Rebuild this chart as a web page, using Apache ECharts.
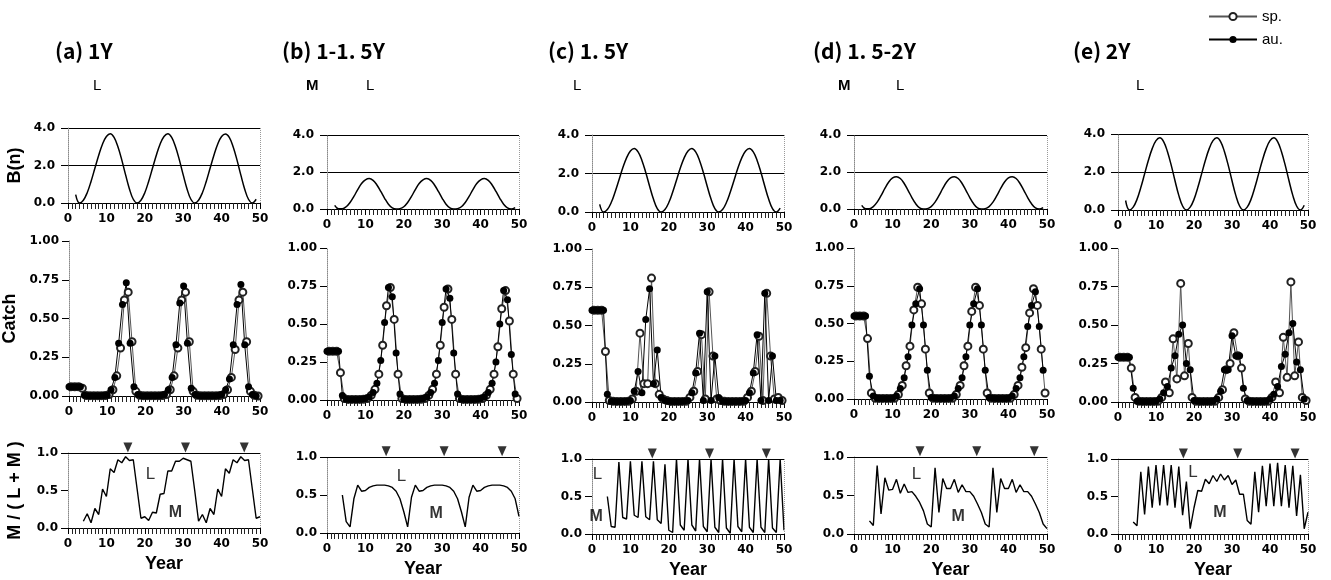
<!DOCTYPE html>
<html><head><meta charset="utf-8">
<script src="https://cdn.jsdelivr.net/npm/echarts@6/dist/echarts.min.js"></script>
<style>html,body{margin:0;padding:0;background:#fff}#c{width:1331px;height:580px}</style>
</head><body><div id="c"></div>
<script>
// ---------------- DATA ----------------
const panelTitles = ['(a) 1Y', '(b) 1-1. 5Y', '(c) 1. 5Y', '(d) 1. 5-2Y', '(e) 2Y'];
const headerMarks = [['L'], ['M', 'L'], ['L'], ['M', 'L'], ['L']];
const bTicks = [0, 2, 4];
const catchTicks = [0, 0.25, 0.5, 0.75, 1];
const mTicks = [0, 0.5, 1];

const bYears = [2,3,4,5,6,7,8,9,10,11,12,13,14,15,16,17,18,19,20,21,22,23,24,25,26,27,28,29,30,31,32,33,34,35,36,37,38,39,40,41,42,43,44,45,46,47,48,49];
const bA = [0.45,0.00,0.15,0.55,1.15,1.85,2.55,3.15,3.55,3.70,3.50,3.00,2.30,1.50,0.75,0.20,0.00,
            0.15,0.55,1.15,1.85,2.55,3.15,3.55,3.70,3.50,3.00,2.30,1.50,0.75,0.20,0.00,
            0.15,0.55,1.15,1.85,2.55,3.15,3.55,3.68,3.50,3.00,2.30,1.50,0.75,0.20,0.00,0.20];
const bB = [0.20,0.02,0.02,0.12,0.35,0.68,1.05,1.38,1.58,1.65,1.55,1.30,0.95,0.58,0.26,0.06,0.00,
            0.02,0.12,0.35,0.68,1.05,1.38,1.58,1.65,1.55,1.30,0.95,0.58,0.26,0.06,0.00,
            0.02,0.12,0.35,0.68,1.05,1.38,1.58,1.65,1.55,1.30,0.95,0.58,0.26,0.06,0.00,0.08];
const bC = [0.40,0.00,0.13,0.49,1.03,1.65,2.28,2.81,3.17,3.30,3.12,2.68,2.05,1.34,0.67,0.18,0.00,
            0.13,0.49,1.03,1.65,2.28,2.81,3.17,3.30,3.12,2.68,2.05,1.34,0.67,0.18,0.00,
            0.13,0.49,1.03,1.65,2.28,2.81,3.17,3.30,3.12,2.68,2.05,1.34,0.67,0.18,0.00,0.20];
const bD = [0.20,0.02,0.02,0.13,0.37,0.72,1.11,1.46,1.68,1.75,1.65,1.38,1.01,0.62,0.28,0.06,0.00,
            0.02,0.13,0.37,0.72,1.11,1.46,1.68,1.75,1.65,1.38,1.01,0.62,0.28,0.06,0.00,
            0.02,0.13,0.37,0.72,1.11,1.46,1.68,1.75,1.65,1.38,1.01,0.62,0.28,0.06,0.00,0.08];
const bE = [0.50,0.00,0.15,0.56,1.18,1.90,2.62,3.23,3.65,3.80,3.60,3.08,2.36,1.54,0.77,0.21,0.00,
            0.15,0.56,1.18,1.90,2.62,3.23,3.65,3.80,3.60,3.08,2.36,1.54,0.77,0.21,0.00,
            0.15,0.56,1.18,1.90,2.62,3.23,3.65,3.80,3.60,3.08,2.36,1.54,0.77,0.21,0.00,0.25];

const auYears = [0,1,2,3,4,5,6,7,8,9,10,11,12,13,14,15,16,17,18,19,20,21,22,23,24,25,26,27,28,29,30,31,32,33,34,35,36,37,38,39,40,41,42,43,44,45,46,47,48,49];
const spYears = [0.5,1.5,2.5,3.5,4.5,5.5,6.5,7.5,8.5,9.5,10.5,11.5,12.5,13.5,14.5,15.5,16.5,17.5,18.5,19.5,20.5,21.5,22.5,23.5,24.5,25.5,26.5,27.5,28.5,29.5,30.5,31.5,32.5,33.5,34.5,35.5,36.5,37.5,38.5,39.5,40.5,41.5,42.5,43.5,44.5,45.5,46.5,47.5,48.5,49.5];

const auA = [0.06,0.06,0.06,0.06, 0.005,0.002,0.002,0.002,0.002,0.003,0.005, 0.04,0.12,0.34,0.59,0.73,0.34,0.06,0.01,
             0.002,0.002,0.002,0.002,0.002,0.003,0.01, 0.04,0.12,0.33,0.60,0.71,0.34,0.05,0.01,
             0.002,0.002,0.002,0.002,0.002,0.003,0.01, 0.04,0.11,0.33,0.59,0.72,0.33,0.06,0.01, 0.0];
const spA = [0.06,0.06,0.06,0.05, 0.003,0.002,0.002,0.002,0.002,0.003,0.01, 0.04,0.13,0.31,0.62,0.67,0.35,0.03,0.005,
             0.002,0.002,0.002,0.002,0.002,0.003,0.01, 0.04,0.13,0.31,0.62,0.67,0.35,0.03,0.005,
             0.002,0.002,0.002,0.002,0.002,0.003,0.01, 0.04,0.12,0.30,0.62,0.67,0.35,0.03,0.005, 0.0];
const auB = [0.32,0.32,0.32,0.32, 0.03, 0.005,0.004,0.004,0.004,0.005,
             0.01,0.02,0.05,0.11,0.26,0.51,0.74,0.68,0.31,0.04, 0.005,0.004,0.004,0.004,0.005,
             0.01,0.02,0.05,0.11,0.26,0.51,0.73,0.67,0.31,0.04, 0.005,0.004,0.004,0.004,0.005,
             0.01,0.02,0.05,0.11,0.25,0.50,0.72,0.66,0.30,0.04];
const spB = [0.32,0.32,0.32, 0.18, 0.01, 0.004,0.004,0.004,0.004,0.005,
             0.01,0.03,0.07,0.17,0.36,0.62,0.74,0.53,0.17,0.01, 0.004,0.004,0.004,0.004,0.005,
             0.01,0.03,0.07,0.17,0.36,0.61,0.73,0.53,0.17,0.01, 0.004,0.004,0.004,0.004,0.005,
             0.01,0.03,0.07,0.17,0.35,0.60,0.72,0.52,0.17,0.01];
const auC = [0.60,0.60,0.60,0.60, 0.05, 0.005,0.004,0.004,0.004,0.005,
             0.01,0.07,0.20,0.06,0.54,0.74,0.12,0.34,0.03,0.01, 0.005,0.004,0.004,0.004,0.005,
             0.01,0.06,0.19,0.45,0.01,0.72,0.01,0.30,0.03,0.005, 0.004,0.004,0.004,0.004,0.005,
             0.01,0.06,0.19,0.44,0.01,0.71,0.01,0.30,0.01,0.01];
const spC = [0.60,0.60,0.60, 0.33, 0.01, 0.005,0.004,0.004,0.004,0.005,
             0.02,0.07,0.45,0.12,0.12,0.81,0.12,0.05,0.02,0.01, 0.004,0.004,0.004,0.004,0.005,
             0.03,0.07,0.20,0.44,0.02,0.72,0.30,0.02,0.01,0.005, 0.004,0.004,0.004,0.004,0.005,
             0.03,0.07,0.20,0.43,0.01,0.71,0.30,0.02,0.03,0.01];
const auD = [0.55,0.55,0.55,0.55, 0.15, 0.02, 0.005,0.004,0.004,0.004,0.005,
             0.02,0.07,0.14,0.28,0.49,0.63,0.73,0.49,0.19,0.01, 0.005,0.004,0.004,0.004,0.005,
             0.02,0.07,0.14,0.28,0.49,0.63,0.73,0.49,0.19,0.01, 0.005,0.004,0.004,0.004,0.005,
             0.02,0.07,0.14,0.28,0.48,0.62,0.71,0.48,0.19];
const spD = [0.55,0.55,0.55, 0.40, 0.04, 0.005,0.004,0.004,0.004,0.004,0.005,
             0.03,0.09,0.22,0.35,0.59,0.74,0.63,0.33,0.04, 0.005,0.004,0.004,0.004,0.004,0.005,
             0.03,0.09,0.22,0.35,0.58,0.74,0.62,0.33,0.04, 0.005,0.004,0.004,0.004,0.004,0.005,
             0.03,0.09,0.21,0.34,0.57,0.73,0.62,0.33,0.04];
const auE = [0.29,0.29,0.29,0.29, 0.09, 0.005,0.004,0.004,0.004,0.004,0.005,
             0.02,0.06,0.10,0.22,0.30,0.44,0.50,0.25,0.21,0.01, 0.005,0.004,0.004,0.004,0.005,
             0.02,0.07,0.21,0.21,0.43,0.30,0.30,0.09,0.01, 0.005,0.004,0.004,0.004,0.005,
             0.02,0.05,0.10,0.23,0.31,0.45,0.51,0.26,0.21,0.02];
const spE = [0.29,0.29,0.29, 0.22, 0.03, 0.005,0.004,0.004,0.004,0.004,0.005,
             0.03,0.13,0.06,0.41,0.15,0.77,0.17,0.38,0.03, 0.005,0.004,0.004,0.004,0.004,0.005,
             0.03,0.08,0.21,0.25,0.45,0.30,0.22,0.02,0.005, 0.004,0.004,0.004,0.004,0.005,
             0.03,0.13,0.06,0.42,0.16,0.78,0.17,0.39,0.03,0.01];

const mYears = [4,5,6,7,8,9,10,11,12,13,14,15,16,17,18,19,20,21,22,23,24,25,26,27,28,29,30,31,32,33,34,35,36,37,38,39,40,41,42,43,44,45,46,47,48,49,50];
const mA = [0.09,0.19,0.07,0.26,0.18,0.52,0.42,0.79,0.74,0.91,0.87,0.95,0.90,0.91,0.52,0.13,0.15,0.10,0.21,0.20,
            0.45,0.46,0.76,0.76,0.89,0.89,0.93,0.91,0.89,0.50,0.09,0.18,0.07,0.26,0.18,0.52,0.42,0.79,0.73,0.91,
            0.87,0.95,0.90,0.91,0.52,0.13,0.15];
const mB = [0.50,0.15,0.08,0.45,0.63,0.55,0.56,0.60,0.62,0.63,0.63,0.63,0.62,0.60,0.55,0.45,0.28,0.08,0.47,0.63,
            0.55,0.56,0.60,0.62,0.63,0.63,0.63,0.62,0.60,0.55,0.45,0.28,0.08,0.47,0.63,0.55,0.56,0.60,0.62,0.63,
            0.63,0.63,0.62,0.60,0.55,0.45,0.22];
const mC = [0.50,0.10,0.09, 0.96,0.22,0.20, 0.97,0.25,0.22, 0.97,0.23,0.19, 0.97,0.19,0.14, 0.93,0.05,0.02,
            1.0,0.12,0.05, 1.0,0.12,0.04, 1.0,0.10,0.03, 1.0,0.09,0.02, 1.0,0.08,0.01, 1.0,0.10,0.03,
            1.0,0.09,0.02, 1.0,0.09,0.02, 1.0,0.08,0.02, 1.0,0.05];
const mD = [0.17,0.11,0.89,0.26,0.73,0.57,0.58,0.71,0.53,0.65,0.54,0.55,0.49,0.41,0.30,0.13,0.09,
            0.86,0.28,0.72,0.59,0.59,0.71,0.54,0.64,0.55,0.55,0.49,0.39,0.28,0.13,0.09,
            0.86,0.28,0.72,0.59,0.59,0.71,0.54,0.64,0.55,0.55,0.49,0.39,0.28,0.13,0.07];
const mE = [0.16,0.11,0.83,0.26,0.90,0.35,0.92,0.38,0.92,0.38,0.92,0.35,0.90,0.25,0.70,0.07,0.35,0.58,0.57,0.73,
            0.67,0.78,0.70,0.80,0.72,0.78,0.66,0.72,0.53,0.53,0.18,0.13,0.83,0.29,0.91,0.37,0.94,0.37,0.95,0.37,
            0.92,0.35,0.91,0.24,0.79,0.07,0.29];

// peak markers (years) and L / M annotation positions [x, y]
const peakA = [15.6, 30.6, 45.9], peakB = [15.4, 30.5, 45.6], peakC = [15.7, 30.6, 45.4], peakD = [17.1, 31.8, 46.7], peakE = [17.2, 31.5, 46.6];
const labelL = [[21.5, 0.71], [19.4, 0.75], [1.4, 0.80], [16.2, 0.77], [19.7, 0.82]];
const labelM = [[28.0, 0.21], [28.4, 0.26], [1.1, 0.23], [27.0, 0.23], [26.8, 0.29]];

// ---------------- LAYOUT ----------------
const B = [bA, bB, bC, bD, bE];
const AU = [auA, auB, auC, auD, auE];
const SP = [spA, spB, spC, spD, spE];
const M = [mA, mB, mC, mD, mE];
const PEAK = [peakA, peakB, peakC, peakD, peakE];

const colLeft = [68, 327, 592, 854, 1118];
const colWidth = [192, 192, 192, 193, 190];
const rowsTB = [
  [[128, 203], [241, 396], [453, 528]],
  [[135, 209], [248, 400], [457, 533]],
  [[135, 212], [249, 402], [459, 536]],
  [[135, 209], [248, 399], [457, 535]],
  [[134, 210], [248, 402], [459, 535]]
];
const titleX = [55, 282, 548, 813, 1073];
const headerX = [[93], [306, 366], [573], [838, 896], [1136]];

const zip = (xs, ys) => ys.map((y, i) => [xs[i], y]);
const tickFont = {fontFamily: 'DejaVu Sans', fontWeight: 'bold', fontSize: 12, color: '#000'};
const nameFont = {fontFamily: 'Liberation Sans', fontWeight: 'bold', fontSize: 18, color: '#000'};

const option = {
  animation: false,
  backgroundColor: '#fff',
  grid: [], xAxis: [], yAxis: [], series: [], graphic: [],
  legend: {
    data: ['sp.', 'au.'], orient: 'vertical', left: 1203, top: 4,
    itemWidth: 48, itemHeight: 9, itemGap: 8,
    textStyle: {fontFamily: 'Liberation Sans', fontSize: 15, color: '#000'},
    selectedMode: false
  }
};

const yDefs = [
  {ticks: bTicks, dec: 1, name: 'B(n)'},
  {ticks: catchTicks, dec: 2, name: 'Catch'},
  {ticks: mTicks, dec: 1, name: 'M / ( L + M )'}
];
const rightBorder = {silent: true, symbol: 'none', label: {show: false},
  lineStyle: {color: '#999', type: 'dotted', width: 1}, data: [{xAxis: 50}]};

for (let i = 0; i < 5; i++) {
  for (let k = 0; k < 3; k++) {
    const g = i * 3 + k;
    const [t, b] = rowsTB[i][k];
    option.grid.push({left: colLeft[i], top: t, width: colWidth[i], height: b - t});
    const yd = yDefs[k];
    option.xAxis.push({
      gridIndex: g, type: 'value', min: 0, max: 50, interval: 10,
      axisLine: {show: true, onZero: false, lineStyle: {color: '#000', width: 1}},
      axisTick: {show: true, length: 6, lineStyle: {color: '#000'}},
      minorTick: {show: true, splitNumber: 10, length: 6, lineStyle: {color: '#222'}},
      axisLabel: Object.assign({margin: 10}, tickFont),
      splitLine: {show: false},
      name: k === 2 ? 'Year' : '', nameLocation: 'middle', nameGap: 27, nameTextStyle: nameFont
    });
    option.yAxis.push({
      gridIndex: g, type: 'value', min: yd.ticks[0], max: yd.ticks[yd.ticks.length - 1],
      interval: yd.ticks[1] - yd.ticks[0],
      axisLine: {show: true, onZero: false, lineStyle: {color: '#888', type: 'dotted', width: 1}},
      axisTick: {show: true, length: 7, lineStyle: {color: '#000'}},
      axisLabel: Object.assign({margin: k === 0 ? 13 : 10, formatter: v => v.toFixed(yd.dec)}, tickFont),
      splitLine: {show: k === 0, lineStyle: {color: '#000', width: 1}},
      name: i === 0 ? yd.name : '', nameLocation: 'middle', nameRotate: 90,
      nameGap: k === 1 ? 50 : 44, nameTextStyle: nameFont
    });
  }
  const gB = i * 3, gC = i * 3 + 1, gM = i * 3 + 2;
  option.series.push({
    type: 'line', xAxisIndex: gB, yAxisIndex: gB, data: zip(bYears, B[i]),
    smooth: 0.4, showSymbol: false, lineStyle: {color: '#000', width: 1.5},
    markLine: rightBorder
  });
  option.series.push({
    name: 'sp.', type: 'line', xAxisIndex: gC, yAxisIndex: gC, data: zip(spYears, SP[i]),
    symbol: 'emptyCircle', symbolSize: 7, itemStyle: {color: '#222', borderWidth: 1},
    lineStyle: {color: '#555', width: 1}
  });
  option.series.push({
    name: 'au.', type: 'line', xAxisIndex: gC, yAxisIndex: gC, data: zip(auYears, AU[i]),
    symbol: 'circle', symbolSize: 7, itemStyle: {color: '#000'},
    lineStyle: {color: '#000', width: 1}
  });
  option.series.push({
    type: 'line', xAxisIndex: gM, yAxisIndex: gM, data: zip(mYears, M[i]),
    showSymbol: false, lineStyle: {color: '#000', width: 1.4},
    markLine: {silent: true, symbol: 'none', label: {show: false},
      data: [
        {yAxis: 1, lineStyle: {color: '#000', type: 'solid', width: 1.2}},
        {xAxis: 50, lineStyle: {color: '#999', type: 'dotted', width: 1}}
      ]}
  });
  option.series.push({
    type: 'scatter', xAxisIndex: gM, yAxisIndex: gM, clip: false,
    data: PEAK[i].map(x => [x, 1.075]),
    symbol: 'triangle', symbolRotate: 180, symbolSize: [9, 10], itemStyle: {color: '#000'}
  });
  option.series.push({
    type: 'scatter', xAxisIndex: gM, yAxisIndex: gM, clip: false, symbolSize: 0,
    data: [
      {value: labelL[i], label: {show: true, position: 'inside', formatter: 'L',
        fontFamily: 'Liberation Sans', fontSize: 17, color: '#000'}},
      {value: labelM[i], label: {show: true, position: 'inside', formatter: 'M',
        fontFamily: 'Liberation Sans', fontWeight: 'bold', fontSize: 16, color: '#000'}}
    ]
  });

  option.graphic.push({type: 'text', left: titleX[i], top: 41,
    style: {text: panelTitles[i], font: 'bold 21px "Noto Sans CJK JP"', fill: '#000'}});
  headerMarks[i].forEach((t, j) => {
    option.graphic.push({type: 'text', left: headerX[i][j], top: 78,
      style: {text: t, font: (t === 'M' ? 'bold ' : '') + '15px "Liberation Sans"', fill: '#000'}});
  });
}

const chart = echarts.init(document.getElementById('c'), null, {renderer: 'canvas'});
chart.setOption(option);
</script>
</body></html>
